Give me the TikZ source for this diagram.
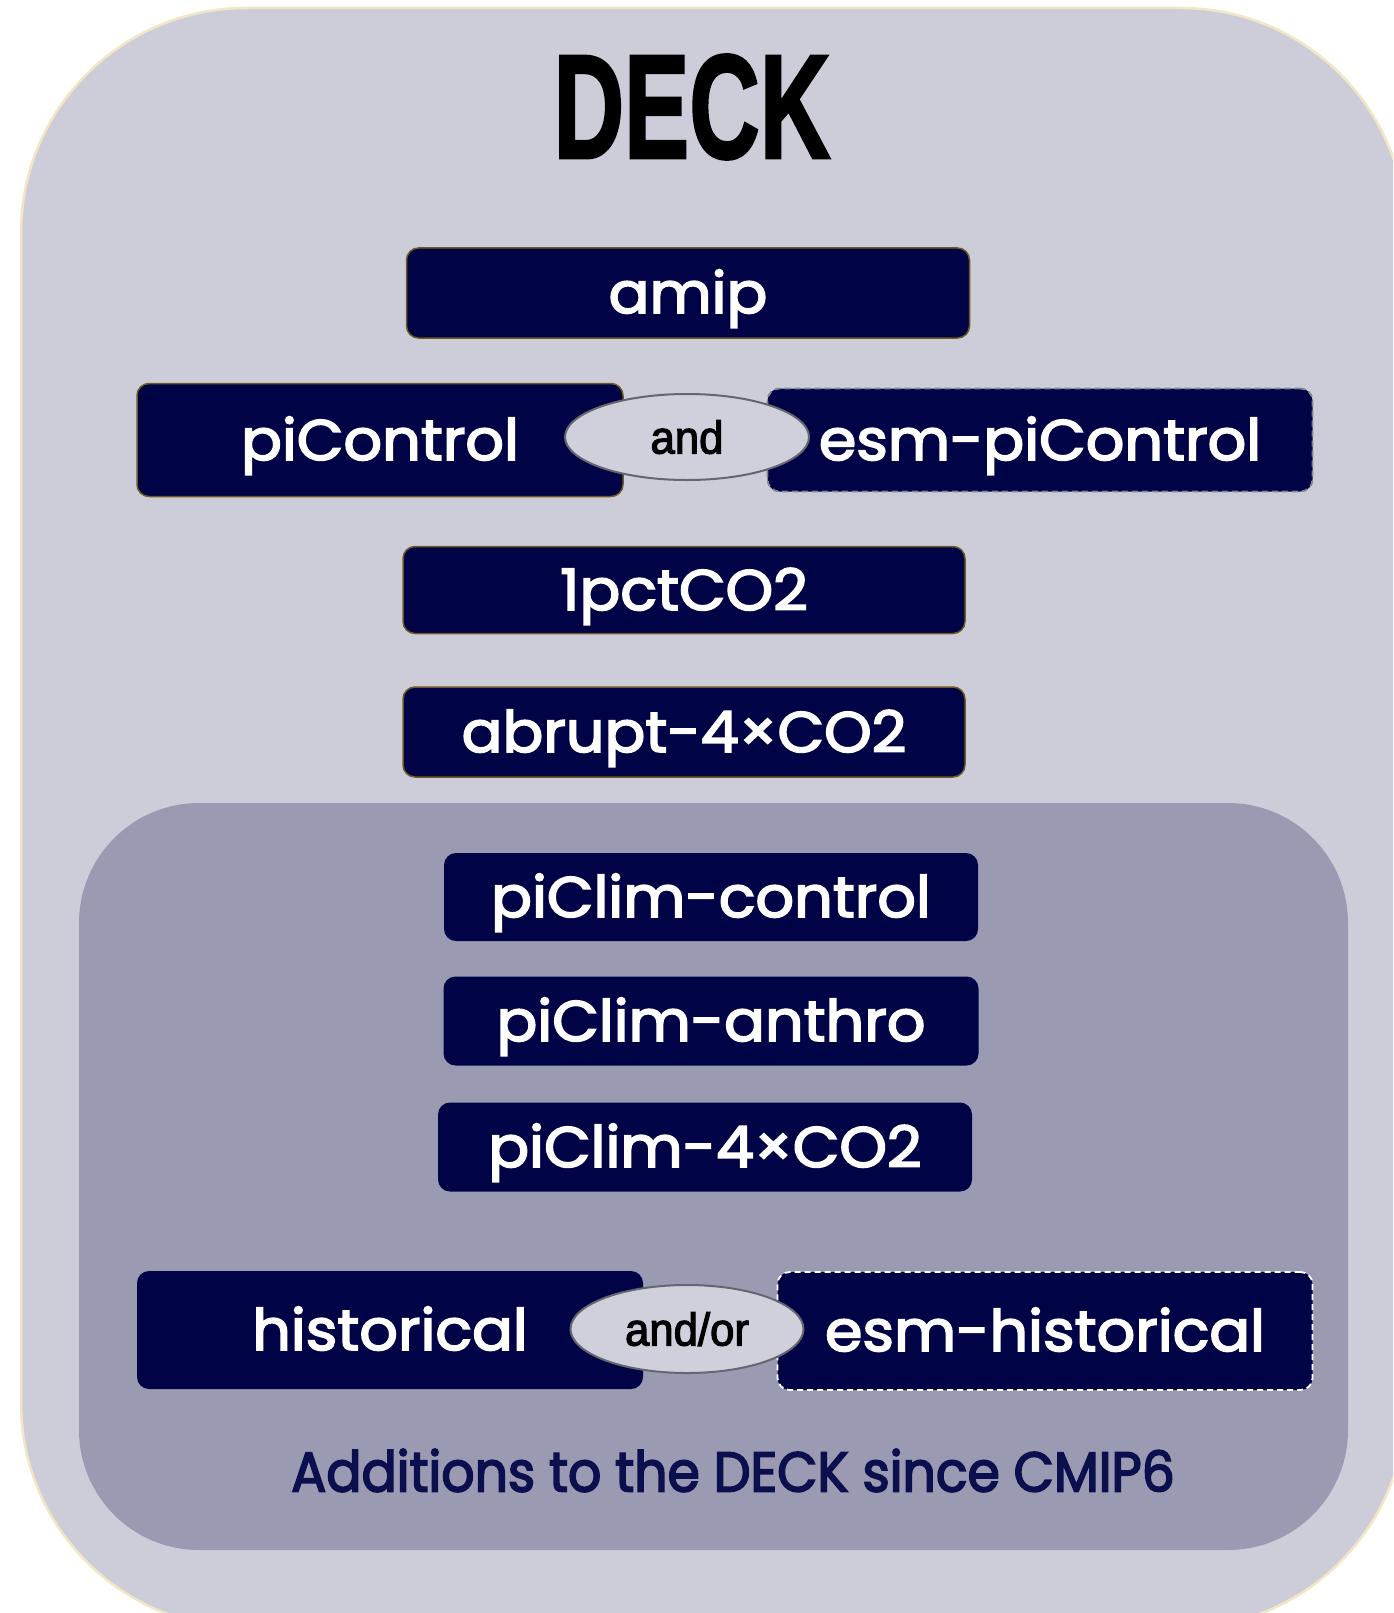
\documentclass[tikz,border=0pt]{standalone}
\usepackage{fontspec}
\usetikzlibrary{shapes.geometric}
\setmainfont{Poppins}
\newfontfamily\titlefont{Liberation Sans}[FakeBold=2]
\newfontfamily\nodefont{Poppins}[FakeStretch=1.06,FakeBold=3]
\newfontfamily\addfont{Poppins}[FakeStretch=0.93,FakeBold=3]
\newfontfamily\joinfont{Liberation Sans}[FakeStretch=0.95,FakeBold=2.5]
\definecolor{outerbg}{HTML}{CDCDDA}
\definecolor{innerbg}{HTML}{9A9BB2}
\definecolor{navy}{HTML}{000446}
\definecolor{addtext}{HTML}{0B0F4E}
\definecolor{cream}{HTML}{F3E6C4}
\definecolor{goldline}{HTML}{6E5A22}
\definecolor{ellfill}{HTML}{CFD0DC}
\definecolor{ellline}{HTML}{666670}
\tikzset{
  expbox/.style={rectangle, rounded corners=12pt, fill=navy, text=white, inner sep=0pt,
    font=\nodefont\fontsize{57}{60}\selectfont, text height=40pt, text depth=0pt},
  goldbox/.style={expbox, draw=goldline, line width=1.5pt},
  dashbox/.style={expbox, draw=#1, line width=1.8pt, dash pattern=on 6pt off 4pt},
  joiner/.style={ellipse, fill=ellfill, draw=ellline, line width=2pt, inner sep=0pt, text=black,
    font=\joinfont\fontsize{46}{48}\selectfont, text height=33pt, text depth=0pt}
}
\begin{document}
\begin{tikzpicture}[x=1pt,y=-1pt]
\useasboundingbox (0,0) rectangle (1393,1613);
\begin{scope}
\clip (0,0) rectangle (1393,1613);
\draw[cream, line width=2.5pt, fill=outerbg, rounded corners=225pt] (21,8) rectangle (1406,1628);
\end{scope}
\fill[innerbg, rounded corners=120pt] (79,803) rectangle (1348,1550);

\node (title) at (692,107) {\titlefont\bfseries\fontsize{148}{150}\selectfont\scalebox{0.66}[1]{DECK}};

\node[goldbox, minimum width=563pt, minimum height=90pt] (amip) at (688,293) {amip};
\node[goldbox, minimum width=486pt, minimum height=113pt] (pic) at (380,440) {piControl};
\node[dashbox=ellline!80, minimum width=545pt, minimum height=103pt] (esmpic) at (1040,440) {esm-piControl};
\node[goldbox, minimum width=562pt, minimum height=87pt] (pct) at (684,590) {1pctCO2};
\node[goldbox, minimum width=562pt, minimum height=90pt] (abr) at (684,732) {abrupt-4×CO2};

\node[expbox, minimum width=534pt, minimum height=88pt] (pcc) at (711,897) {piClim-control};
\node[expbox, minimum width=535pt, minimum height=89pt] (pca) at (711,1021) {piClim-anthro};
\node[expbox, minimum width=534pt, minimum height=89pt] (pc4) at (705,1147) {piClim-4×CO2};
\node[expbox, minimum width=506pt, minimum height=118pt] (hist) at (390,1330) {historical};
\node[dashbox=white, minimum width=535pt, minimum height=118pt] (esmhist) at (1045,1331) {esm-historical};

\node[joiner, minimum width=244pt, minimum height=86pt] (and) at (687,437) {and};
\node[joiner, minimum width=233pt, minimum height=88pt] (andor) at (687,1329) {and/or};

\node[text=addtext, font=\addfont\fontsize{56}{60}\selectfont, text height=39pt, text depth=0pt] (add) at (733,1472) {Additions to the DECK since CMIP6};
\end{tikzpicture}
\end{document}
